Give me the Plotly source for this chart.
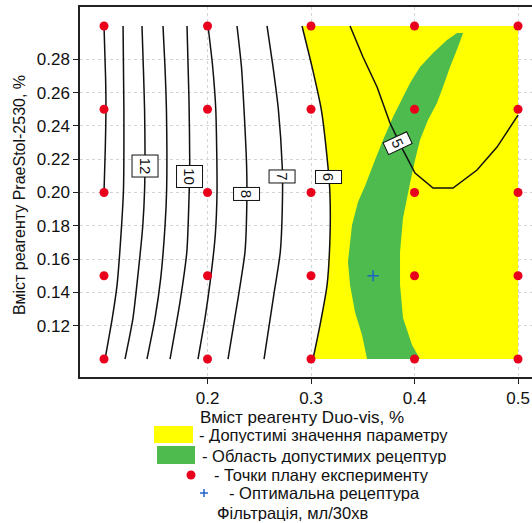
import plotly.graph_objects as go

# ---------------- data ----------------
plan_x = [0.1, 0.2, 0.3, 0.4, 0.5]
plan_y = [0.1, 0.15, 0.2, 0.25, 0.3]

optimum_x = [0.36]
optimum_y = [0.15]

# contour lines of "Фільтрація, мл/30хв"
line14_x = [0.1, 0.1015, 0.1019, 0.1012, 0.1]
line14_y = [0.3, 0.2694, 0.2495, 0.2255, 0.2]
line13_x = [0.1184, 0.1192, 0.1188, 0.1170, 0.1126, 0.1080, 0.101]
line13_y = [0.3, 0.2495, 0.2015, 0.1805, 0.1444, 0.1246, 0.1]
line12_x = [0.1367, 0.1380, 0.1392, 0.1396, 0.1392, 0.1375, 0.1335, 0.1280, 0.1203]
line12_y = [0.3, 0.2754, 0.2495, 0.2255, 0.2015, 0.1805, 0.1547, 0.1246, 0.1]
line11_x = [0.157, 0.1589, 0.1603, 0.1605, 0.1590, 0.1548, 0.1493, 0.1415]
line11_y = [0.3, 0.2754, 0.2495, 0.2015, 0.1805, 0.1486, 0.1246, 0.1]
line10_x = [0.1802, 0.1821, 0.1828, 0.1820, 0.1800, 0.1734, 0.1638]
line10_y = [0.3, 0.2556, 0.2195, 0.1943, 0.1643, 0.1342, 0.1]
line9_x = [0.2005, 0.2050, 0.2080, 0.2092, 0.2075, 0.2030, 0.1976, 0.1908]
line9_y = [0.3, 0.2754, 0.2495, 0.2015, 0.1745, 0.1486, 0.1246, 0.1]
line8_x = [0.2285, 0.2328, 0.2353, 0.2378, 0.2380, 0.2362, 0.2300, 0.2198]
line8_y = [0.3, 0.2754, 0.2495, 0.2153, 0.1943, 0.1643, 0.1384, 0.1]
line7_x = [0.2575, 0.2633, 0.2685, 0.2722, 0.2725, 0.2703, 0.2640, 0.2546]
line7_y = [0.3, 0.2754, 0.2495, 0.2153, 0.2003, 0.1643, 0.1384, 0.1]
line6_x = [0.2913, 0.3010, 0.3100, 0.3164, 0.3182, 0.3184, 0.3155, 0.3087, 0.3019]
line6_y = [0.3, 0.2754, 0.2495, 0.2153, 0.2003, 0.1745, 0.1444, 0.1204, 0.1]
line5_x = [0.3377, 0.3502, 0.3638, 0.3763, 0.3889, 0.4005, 0.4179, 0.4372, 0.4604, 0.4797, 0.5]
line5_y = [0.3, 0.2814, 0.2634, 0.2417, 0.2255, 0.2117, 0.2027, 0.2027, 0.2135, 0.2273, 0.2465]

# admissible-recipe region boundary
green_x = [0.4469, 0.4420, 0.4343, 0.4275, 0.4217, 0.4130, 0.4053, 0.4005, 0.3957, 0.3889,
           0.3860, 0.3860, 0.3889, 0.3976, 0.4053, 0.3541, 0.3493, 0.3425, 0.3377, 0.3357,
           0.3396, 0.3454, 0.3522, 0.3618, 0.3696, 0.3792, 0.3889, 0.3957, 0.4053, 0.4179,
           0.4314, 0.4411]
green_y = [0.2958, 0.2874, 0.2754, 0.2634, 0.2538, 0.2435, 0.2315, 0.2195, 0.2057, 0.1847,
           0.1643, 0.1444, 0.1246, 0.1084, 0.1, 0.1, 0.1144, 0.1282, 0.1444, 0.1583,
           0.1805, 0.1943, 0.2039, 0.2195, 0.2315, 0.2453, 0.2574, 0.2658, 0.2754, 0.2838,
           0.2916, 0.2958]

# contour labels
label_text = ["12", "10", "8", "7", "6", "5"]
label_x = [0.1396, 0.1831, 0.2377, 0.2720, 0.3169, 0.3841]
label_y = [0.2162, 0.2099, 0.1994, 0.2096, 0.2096, 0.2297]

x_ticks = [0.2, 0.3, 0.4, 0.5]
y_ticks = [0.12, 0.14, 0.16, 0.18, 0.20, 0.22, 0.24, 0.26, 0.28]

x_title = "Вміст реагенту Duo-vis, %"
y_title = "Вміст реагенту PraeStol-2530, %"
legend_texts = ["- Допустимі значення параметру", "- Область допустимих рецептур",
                "- Точки плану експерименту", "- Оптимальна рецептура"]
chart_title = "Фільтрація, мл/30хв"

# ---------------- figure ----------------
FONT = "Liberation Sans, Arial, sans-serif"
YELLOW = "#ffff00"
GREEN = "#4dbb4d"
RED = "#e8001c"
BLUE = "#1f63c8"
INK = "#111111"

fig = go.Figure()

# yellow: admissible values (F <= 6) – bounded by the 6 contour and the domain edge
yellow_x = line6_x + [max(plan_x), max(plan_x)]
yellow_y = line6_y + [min(plan_y), max(plan_y)]
fig.add_trace(go.Scatter(x=yellow_x, y=yellow_y, fill="toself", fillcolor=YELLOW,
                         mode="none", hoverinfo="skip", showlegend=False))
fig.add_trace(go.Scatter(x=green_x, y=green_y, fill="toself", fillcolor=GREEN,
                         mode="none", hoverinfo="skip", showlegend=False))

lines = [(line14_x, line14_y), (line13_x, line13_y), (line12_x, line12_y),
         (line11_x, line11_y), (line10_x, line10_y), (line9_x, line9_y),
         (line8_x, line8_y), (line7_x, line7_y), (line6_x, line6_y)]
for lx, ly in lines:
    fig.add_trace(go.Scatter(x=lx, y=ly, mode="lines",
                             line=dict(color=INK, width=1.5, shape="spline", smoothing=0.6),
                             hoverinfo="skip", showlegend=False))
fig.add_trace(go.Scatter(x=line5_x, y=line5_y, mode="lines",
                         line=dict(color=INK, width=1.5),
                         hoverinfo="skip", showlegend=False))

px_, py_ = [], []
for yy in plan_y:
    for xx in plan_x:
        px_.append(xx)
        py_.append(yy)
fig.add_trace(go.Scatter(x=px_, y=py_, mode="markers",
                         marker=dict(color=RED, size=9, line=dict(width=0)),
                         showlegend=False))
fig.add_trace(go.Scatter(x=optimum_x, y=optimum_y, mode="markers",
                         marker=dict(symbol="cross-thin", size=8, line=dict(color=BLUE, width=1.5)),
                         showlegend=False))

annotations = []
for t, lx, ly in zip(label_text, label_x, label_y):
    ang = 65 if t == "5" else 90
    w = 17 if len(t) == 2 else 8
    annotations.append(dict(x=lx, y=ly, xref="x", yref="y", text=t, showarrow=False,
                            textangle=ang, width=w, height=21, bgcolor="white",
                            bordercolor=INK, borderwidth=1, borderpad=2,
                            font=dict(family=FONT, size=15, color=INK)))

# axis titles
annotations.append(dict(x=0.4912, y=-0.1108, xref="paper", yref="paper", text=x_title,
                        showarrow=False, xanchor="center", yanchor="middle",
                        font=dict(family=FONT, size=17, color=INK)))
annotations.append(dict(x=-0.1327, y=0.4919, xref="paper", yref="paper", text=y_title,
                        showarrow=False, xanchor="center", yanchor="middle", textangle=-90,
                        font=dict(family=FONT, size=16, color=INK)))

# legend texts
leg_pos = [(0.2611, -0.1568), (0.2677, -0.2135), (0.2942, -0.2649), (0.3274, -0.3135),
           (0.3009, -0.3676)]
for t, (lx, ly) in zip(legend_texts + [chart_title], leg_pos):
    annotations.append(dict(x=lx, y=ly, xref="paper", yref="paper", text=t, showarrow=False,
                            xanchor="left", yanchor="middle", height=16, borderpad=0,
                            font=dict(family=FONT, size=16.5, color=INK)))

shapes = [
    dict(type="rect", xref="paper", yref="paper", x0=0.1637, x1=0.25, y0=-0.1784, y1=-0.1324,
         fillcolor=YELLOW, line=dict(width=0)),
    dict(type="rect", xref="paper", yref="paper", x0=0.1704, x1=0.2544, y0=-0.2351, y1=-0.1865,
         fillcolor=GREEN, line=dict(width=0)),
    dict(type="circle", xref="paper", yref="paper", x0=0.2356, x1=0.2555, y0=-0.277, y1=-0.2527,
         fillcolor=RED, line=dict(width=0)),
    dict(type="line", xref="paper", yref="paper", x0=0.2655, x1=0.2832, y0=-0.3135, y1=-0.3135,
         line=dict(color=BLUE, width=1.5)),
    dict(type="line", xref="paper", yref="paper", x0=0.2743, x1=0.2743, y0=-0.3027, y1=-0.3243,
         line=dict(color=BLUE, width=1.5)),
]

fig.update_layout(
    width=532, height=523, autosize=False,
    margin=dict(l=80, r=0, t=7, b=146, pad=0),
    paper_bgcolor="white", plot_bgcolor="white",
    font=dict(family=FONT, size=17, color=INK),
    showlegend=False,
    annotations=annotations, shapes=shapes,
    xaxis=dict(range=[0.0768, 0.5135], tickmode="array", tickvals=x_ticks,
               ticktext=["%.1f" % v for v in x_ticks],
               showgrid=True, gridcolor="#d4d4d4", griddash="dot", gridwidth=1,
               showline=True, mirror=True, linecolor="#222222", linewidth=1.5,
               ticks="outside", ticklen=5, tickcolor="#222222", zeroline=False,
               tickfont=dict(family=FONT, size=17, color=INK)),
    yaxis=dict(range=[0.0892, 0.3114], tickmode="array", tickvals=y_ticks,
               ticktext=["%.2f" % v for v in y_ticks],
               showgrid=True, gridcolor="#d4d4d4", griddash="dot", gridwidth=1,
               showline=True, mirror=False, linecolor="#222222", linewidth=1.5,
               ticks="outside", ticklen=5, tickcolor="#222222", zeroline=False,
               tickfont=dict(family=FONT, size=17, color=INK)),
)

fig.write_html("out.html")
